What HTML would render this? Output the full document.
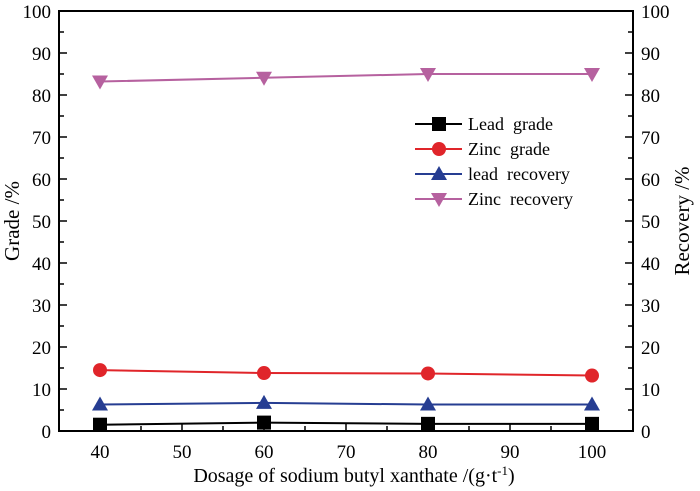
<!DOCTYPE html>
<html><head><meta charset="utf-8"><style>
html,body{margin:0;padding:0;background:#fff;}
svg{display:block;font-family:"Liberation Serif",serif;}
svg text{white-space:pre;}
</style></head><body>
<svg id="chart" width="700" height="491" xmlns="http://www.w3.org/2000/svg"></svg>
<script>
const categories=[40,60,80,100];
const leadGrade=[1.5,2.0,1.7,1.7];
const zincGrade=[14.5,13.8,13.7,13.2];
const leadRecovery=[6.3,6.7,6.3,6.3];
const zincRecovery=[83.2,84.1,85.0,85.0];
const xTicks=[40,50,60,70,80,90,100];
const yTicks=[0,10,20,30,40,50,60,70,80,90,100];
const seriesNames=["Lead  grade","Zinc  grade","lead  recovery","Zinc  recovery"];

const L=59,R=633,T=11,B=431,XMIN=35,XMAX=105,YMIN=0,YMAX=100;
const sx=v=>L+(v-XMIN)/(XMAX-XMIN)*(R-L);
const sy=v=>B-(v-YMIN)/(YMAX-YMIN)*(B-T);
const svg=document.getElementById('chart');
const NS="http://www.w3.org/2000/svg";
function el(tag,attrs,parent){const e=document.createElementNS(NS,tag);for(const k in attrs)e.setAttribute(k,attrs[k]);(parent||svg).appendChild(e);return e;}

const frame=el('rect',{x:L,y:T,width:R-L,height:B-T,fill:'none',stroke:'#000','stroke-width':2});



for(let v=XMIN;v<=XMAX;v+=5){
  const major=v%10===0;
  const t=el('line',{x1:sx(v),x2:sx(v),y1:B,y2:B-(major?8:5),stroke:'#000','stroke-width':1.5});
  
  
}
xTicks.forEach(v=>{
  const t=el('text',{x:sx(v),y:B+27,'text-anchor':'middle','font-size':19,fill:'#000'});
  t.textContent=v;
  
  
});
for(let v=YMIN;v<=YMAX;v+=5){
  const major=v%10===0;
  const w=major?8:5;
  const a=el('line',{x1:L,x2:L+w,y1:sy(v),y2:sy(v),stroke:'#000','stroke-width':1.5});
  
  
  const b=el('line',{x1:R,x2:R-w,y1:sy(v),y2:sy(v),stroke:'#000','stroke-width':1.5});
  
  
}
yTicks.forEach(v=>{
  const a=el('text',{x:L-8,y:sy(v)+7,'text-anchor':'end','font-size':19,fill:'#000'});
  a.textContent=v;
  
  
  const b=el('text',{x:R+8,y:sy(v)+7,'text-anchor':'start','font-size':19,fill:'#000'});
  b.textContent=v;
  
  
});
const xt=el('text',{x:(L+R)/2+8,y:482,'text-anchor':'middle','font-size':20,fill:'#000'});
xt.innerHTML='Dosage of sodium butyl xanthate /(g·t<tspan dy="-7" font-size="13">-1</tspan><tspan dy="7">)</tspan>';


const yl=el('text',{x:0,y:0,transform:`translate(19,${(T+B)/2}) rotate(-90)`,'text-anchor':'middle','font-size':21,fill:'#000'});
yl.textContent='Grade /%';


const yr=el('text',{x:0,y:0,transform:`translate(689,${(T+B)/2}) rotate(-90)`,'text-anchor':'middle','font-size':21,fill:'#000'});
yr.textContent='Recovery /%';



function marker(kind,x,y,color,parent){
  if(kind==='square')return el('rect',{x:x-7,y:y-7,width:14,height:14,fill:color},parent);
  if(kind==='circle')return el('circle',{cx:x,cy:y,r:7,fill:color},parent);
  if(kind==='up')return el('polygon',{points:`${x},${y-8} ${x-8},${y+6} ${x+8},${y+6}`,fill:color},parent);
  return el('polygon',{points:`${x},${y+8} ${x-8},${y-6} ${x+8},${y-6}`,fill:color},parent);
}
const series=[
  {name:'lead-grade',data:leadGrade,color:'#000',m:'square'},
  {name:'zinc-grade',data:zincGrade,color:'#e0252a',m:'circle'},
  {name:'lead-recovery',data:leadRecovery,color:'#263d92',m:'up'},
  {name:'zinc-recovery',data:zincRecovery,color:'#b6619f',m:'down'}
];
series.forEach((s,i)=>{
  const g=el('g',{});
  
  
  const pl=el('polyline',{points:categories.map((c,j)=>sx(c)+','+sy(s.data[j])).join(' '),fill:'none',stroke:s.color,'stroke-width':2},g);
  
  
  categories.forEach((c,j)=>{
    const m=marker(s.m,sx(c),sy(s.data[j]),s.color,g);
    
    
  });
  const ly=124+i*25;
  const lg=el('g',{});
  
  
  el('line',{x1:415,x2:462,y1:ly,y2:ly,stroke:s.color,'stroke-width':2},lg);
  marker(s.m,439,ly,s.color,lg);
  const lt=el('text',{x:468,y:ly+6,'font-size':18,fill:'#000'},lg);
  lt.textContent=seriesNames[i];
  
  
});
</script>
</body></html>
